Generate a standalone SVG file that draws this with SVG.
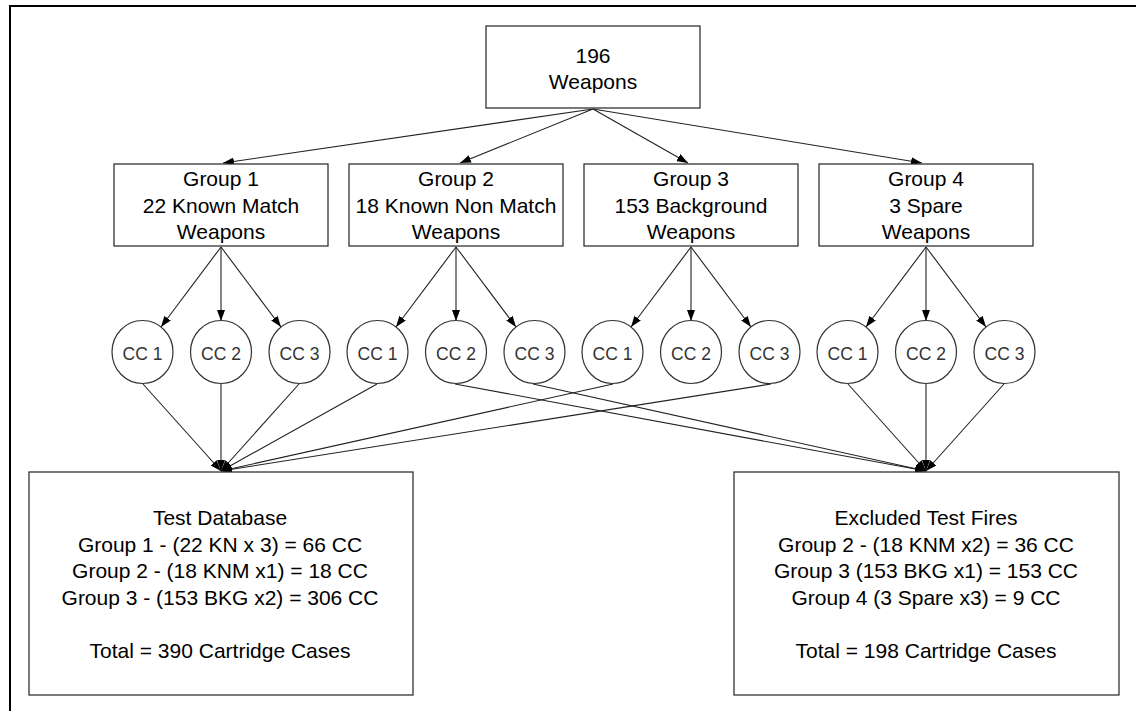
<svg xmlns="http://www.w3.org/2000/svg" width="1136" height="711" viewBox="0 0 1136 711">
<style>
.box{fill:#fff;stroke:#333;stroke-width:1.3}
.circ{fill:#fff;stroke:#333;stroke-width:1.2}
.t{font-family:"Liberation Sans",Arial,sans-serif;font-size:21px;fill:#000;text-anchor:middle}
.c{font-family:"Liberation Sans",Arial,sans-serif;font-size:17.5px;fill:#333;text-anchor:middle}
.ln{stroke:#222;stroke-width:1.1;fill:none;marker-end:url(#ah)}
</style>
<defs>
<marker id="ah" markerUnits="userSpaceOnUse" markerWidth="12" markerHeight="8" refX="11" refY="4" orient="auto">
<path d="M0,0 L11,4 L0,8 z" fill="#000"/>
</marker>
</defs>
<rect x="0" y="0" width="1136" height="711" fill="#fff"/>
<rect x="10" y="6" width="1200" height="800" fill="none" stroke="#000" stroke-width="2"/>

<g id="connectors">
<line class="ln" x1="593" y1="109" x2="223" y2="163"/>
<line class="ln" x1="593" y1="109" x2="460" y2="163"/>
<line class="ln" x1="593" y1="109" x2="688" y2="163"/>
<line class="ln" x1="593" y1="109" x2="922" y2="163"/>

<line class="ln" x1="221" y1="247" x2="161" y2="327"/>
<line class="ln" x1="221" y1="247" x2="221" y2="321"/>
<line class="ln" x1="221" y1="247" x2="281" y2="327"/>
<line class="ln" x1="456" y1="247" x2="396" y2="327"/>
<line class="ln" x1="456" y1="247" x2="456" y2="321"/>
<line class="ln" x1="456" y1="247" x2="516" y2="327"/>
<line class="ln" x1="691" y1="247" x2="631" y2="327"/>
<line class="ln" x1="691" y1="247" x2="691" y2="321"/>
<line class="ln" x1="691" y1="247" x2="751" y2="327"/>
<line class="ln" x1="926" y1="247" x2="866" y2="327"/>
<line class="ln" x1="926" y1="247" x2="926" y2="321"/>
<line class="ln" x1="926" y1="247" x2="986" y2="327"/>

<line class="ln" x1="143" y1="384" x2="221" y2="471"/>
<line class="ln" x1="221" y1="384" x2="221" y2="471"/>
<line class="ln" x1="299" y1="384" x2="221" y2="471"/>
<line class="ln" x1="377" y1="384" x2="221" y2="471"/>
<line class="ln" x1="613" y1="384" x2="221" y2="471"/>
<line class="ln" x1="771" y1="384" x2="221" y2="471"/>

<line class="ln" x1="455" y1="384" x2="926" y2="471"/>
<line class="ln" x1="533" y1="384" x2="926" y2="471"/>
<line class="ln" x1="848" y1="384" x2="926" y2="471"/>
<line class="ln" x1="926" y1="384" x2="926" y2="471"/>
<line class="ln" x1="1004" y1="384" x2="926" y2="471"/>
</g>

<g id="weapons">
<rect class="box" x="486" y="26" width="214" height="82"/>
<text class="t" x="593" y="63">196</text>
<text class="t" x="593" y="89">Weapons</text>
</g>

<g id="group1">
<rect class="box" x="114" y="164" width="214" height="82"/>
<text class="t" x="221" y="186">Group 1</text>
<text class="t" x="221" y="212.7">22 Known Match</text>
<text class="t" x="221" y="239.3">Weapons</text>
</g>
<g id="group2">
<rect class="box" x="349" y="164" width="214" height="82"/>
<text class="t" x="456" y="186">Group 2</text>
<text class="t" x="456" y="212.7">18 Known Non Match</text>
<text class="t" x="456" y="239.3">Weapons</text>
</g>
<g id="group3">
<rect class="box" x="584" y="164" width="214" height="82"/>
<text class="t" x="691" y="186">Group 3</text>
<text class="t" x="691" y="212.7">153 Background</text>
<text class="t" x="691" y="239.3">Weapons</text>
</g>
<g id="group4">
<rect class="box" x="819" y="164" width="214" height="82"/>
<text class="t" x="926" y="186">Group 4</text>
<text class="t" x="926" y="212.7">3 Spare</text>
<text class="t" x="926" y="239.3">Weapons</text>
</g>

<g id="g1cc1"><ellipse class="circ" cx="142.5" cy="352" rx="30.5" ry="31.5"/><text class="c" x="142.5" y="360">CC 1</text></g>
<g id="g1cc2"><ellipse class="circ" cx="221" cy="352" rx="30.5" ry="31.5"/><text class="c" x="221" y="360">CC 2</text></g>
<g id="g1cc3"><ellipse class="circ" cx="299.5" cy="352" rx="30.5" ry="31.5"/><text class="c" x="299.5" y="360">CC 3</text></g>
<g id="g2cc1"><ellipse class="circ" cx="377.5" cy="352" rx="30.5" ry="31.5"/><text class="c" x="377.5" y="360">CC 1</text></g>
<g id="g2cc2"><ellipse class="circ" cx="456" cy="352" rx="30.5" ry="31.5"/><text class="c" x="456" y="360">CC 2</text></g>
<g id="g2cc3"><ellipse class="circ" cx="534.5" cy="352" rx="30.5" ry="31.5"/><text class="c" x="534.5" y="360">CC 3</text></g>
<g id="g3cc1"><ellipse class="circ" cx="612.5" cy="352" rx="30.5" ry="31.5"/><text class="c" x="612.5" y="360">CC 1</text></g>
<g id="g3cc2"><ellipse class="circ" cx="691" cy="352" rx="30.5" ry="31.5"/><text class="c" x="691" y="360">CC 2</text></g>
<g id="g3cc3"><ellipse class="circ" cx="769.5" cy="352" rx="30.5" ry="31.5"/><text class="c" x="769.5" y="360">CC 3</text></g>
<g id="g4cc1"><ellipse class="circ" cx="847.5" cy="352" rx="30.5" ry="31.5"/><text class="c" x="847.5" y="360">CC 1</text></g>
<g id="g4cc2"><ellipse class="circ" cx="926" cy="352" rx="30.5" ry="31.5"/><text class="c" x="926" y="360">CC 2</text></g>
<g id="g4cc3"><ellipse class="circ" cx="1004.5" cy="352" rx="30.5" ry="31.5"/><text class="c" x="1004.5" y="360">CC 3</text></g>

<g id="testdb">
<rect class="box" x="29" y="472" width="384" height="223"/>
<text class="t" x="220" y="525">Test Database</text>
<text class="t" x="220" y="551.7">Group 1 - (22 KN x 3) = 66 CC</text>
<text class="t" x="220" y="578.3">Group 2 - (18 KNM x1) = 18 CC</text>
<text class="t" x="220" y="605">Group 3 - (153 BKG x2) = 306 CC</text>
<text class="t" x="220" y="658.3">Total = 390 Cartridge Cases</text>
</g>

<g id="excluded">
<rect class="box" x="734" y="472" width="385" height="223"/>
<text class="t" x="926" y="525">Excluded Test Fires</text>
<text class="t" x="926" y="551.7">Group 2 - (18 KNM x2) = 36 CC</text>
<text class="t" x="926" y="578.3">Group 3 (153 BKG x1) = 153 CC</text>
<text class="t" x="926" y="605">Group 4 (3 Spare x3) = 9 CC</text>
<text class="t" x="926" y="658.3">Total = 198 Cartridge Cases</text>
</g>
</svg>
